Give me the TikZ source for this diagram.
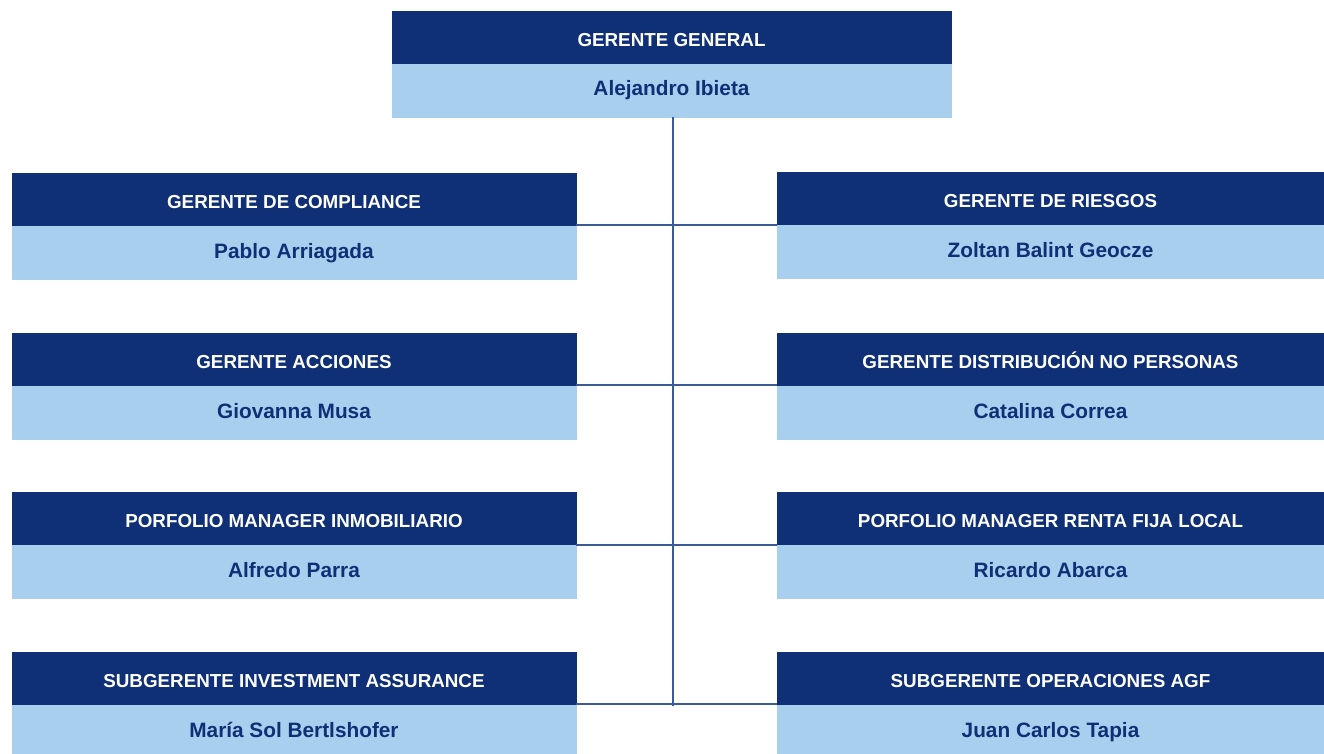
\documentclass[tikz,border=0pt]{standalone}
\usepackage{fontspec}
\setmainfont{Liberation Sans}
\usetikzlibrary{positioning}
\definecolor{navy}{HTML}{0F2F76}
\definecolor{celeste}{HTML}{A8CFEE}
\definecolor{linea}{HTML}{3B5B98}
\tikzset{
  cargo/.style={fill=navy, draw=navy, line width=0.4pt, text=white,
    font=\bfseries\fontsize{18.8}{22}\selectfont, text height=18pt, text depth=0pt,
    minimum height=53pt, inner sep=0pt, outer sep=0pt, anchor=north},
  nombre/.style={fill=celeste, draw=celeste, line width=0.4pt, text=navy,
    font=\bfseries\fontsize{20.8}{24}\selectfont, text height=15pt, text depth=4pt,
    minimum height=53pt, inner sep=0pt, outer sep=0pt, below=0pt of #1},
  izq/.style={minimum width=564pt},
  der/.style={minimum width=547pt},
  rama/.style={draw=linea, line width=1.8pt}
}
\begin{document}
\begin{tikzpicture}[x=1pt,y=-1pt]
  \useasboundingbox (0,0) rectangle (1324,754);
  %gerente general
  \node[cargo, minimum width=559pt] (gg) at (671.5,11) {GERENTE GENERAL};
  \node[nombre=gg, minimum width=559pt] (ngg) {Alejandro Ibieta};
  %izquierda
  \node[cargo, izq] (c1) at (294,173) {GERENTE DE COMPLIANCE};
  \node[nombre=c1, izq] (n1) {Pablo Arriagada};
  \node[cargo, izq] (c2) at (294,333) {GERENTE ACCIONES};
  \node[nombre=c2, izq] (n2) {Giovanna Musa};
  \node[cargo, izq] (c3) at (294,492) {PORFOLIO MANAGER INMOBILIARIO};
  \node[nombre=c3, izq] (n3) {Alfredo Parra};
  \node[cargo, izq] (c4) at (294,652) {SUBGERENTE INVESTMENT ASSURANCE};
  \node[nombre=c4, izq] (n4) {María Sol Bertlshofer};
  %derecha
  \node[cargo, der] (d1) at (1050.5,172) {GERENTE DE RIESGOS};
  \node[nombre=d1, der] (m1) {Zoltan Balint Geocze};
  \node[cargo, der] (d2) at (1050.5,333) {GERENTE DISTRIBUCIÓN NO PERSONAS};
  \node[nombre=d2, der] (m2) {Catalina Correa};
  \node[cargo, der] (d3) at (1050.5,492) {PORFOLIO MANAGER RENTA FIJA LOCAL};
  \node[nombre=d3, der] (m3) {Ricardo Abarca};
  \node[cargo, der] (d4) at (1050.5,652) {SUBGERENTE OPERACIONES AGF};
  \node[nombre=d4, der] (m4) {Juan Carlos Tapia};
  %segments
  \coordinate (ini) at ([xshift=1.5pt]ngg.south);
  \coordinate (fin) at ([yshift=-1pt]ini |- d4.south);
  \draw[rama] (ini) -- (fin);
  \draw[rama] ([yshift=1pt]c1.south east) -- ([yshift=1pt]c1.south east -| d1.west);
  \draw[rama] ([yshift=1pt]c2.south east) -- ([yshift=1pt]c2.south east -| d2.west);
  \draw[rama] (c3.south east) -- (c3.south east -| d3.west);
  \draw[rama] ([yshift=1pt]c4.south east) -- ([yshift=1pt]c4.south east -| d4.west);
\end{tikzpicture}
\end{document}
